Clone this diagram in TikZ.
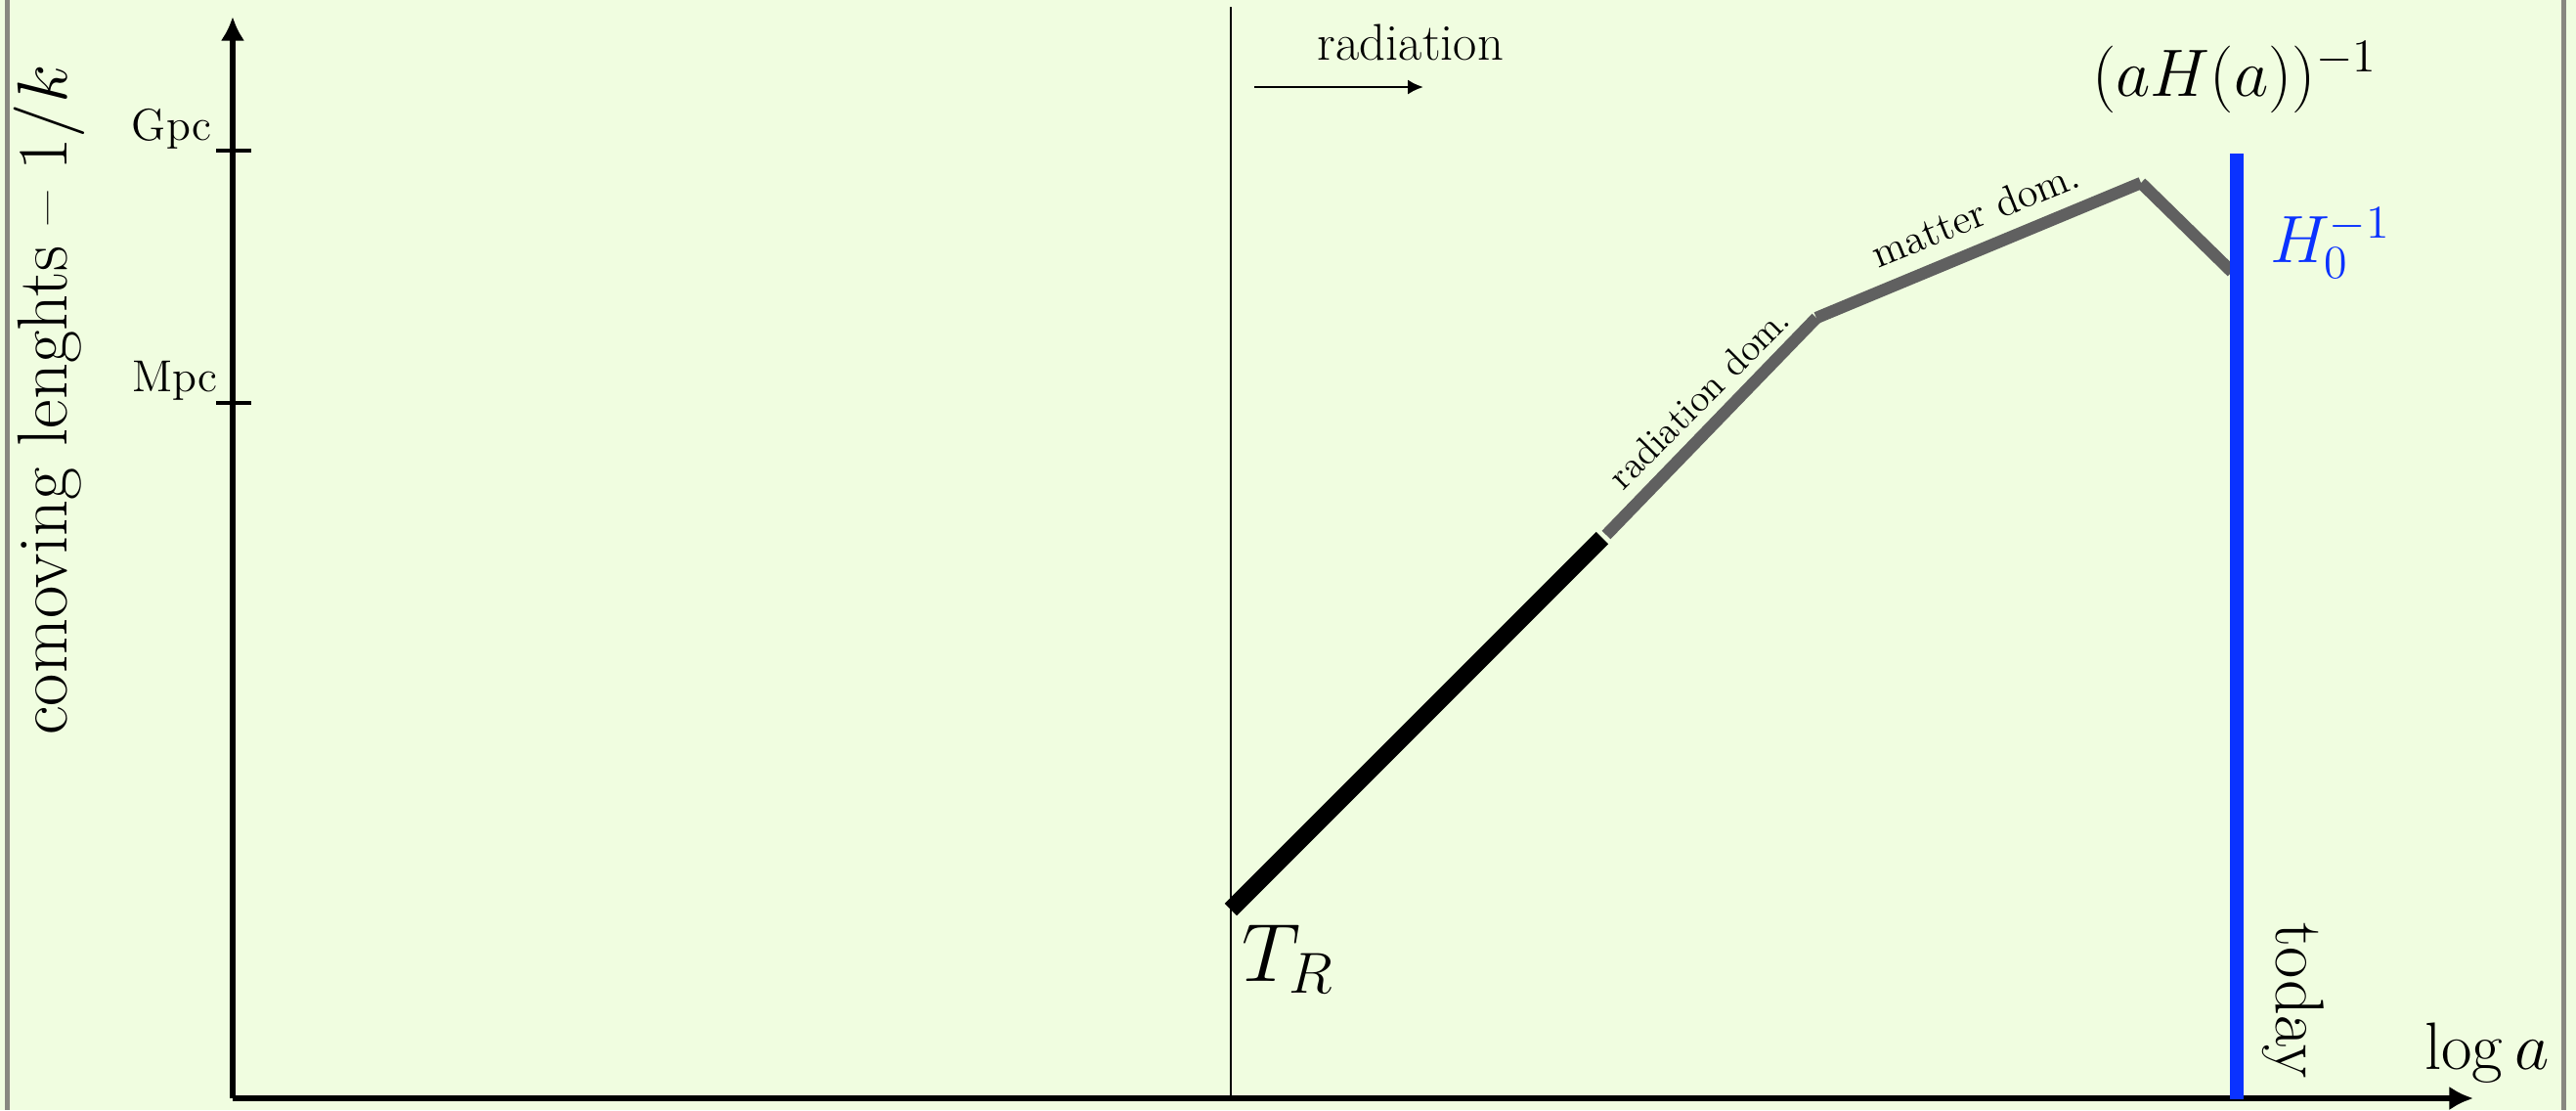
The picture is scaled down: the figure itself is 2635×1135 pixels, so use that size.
\RequirePackage{fix-cm}
\documentclass[tikz,border=0pt]{standalone}
\usetikzlibrary{arrows.meta}
\definecolor{bgc}{HTML}{F0FDE0}
\definecolor{framec}{HTML}{888880}
\definecolor{curvec}{HTML}{606060}
\definecolor{todayc}{HTML}{0A32FF}
\newcommand{\fs}[1]{\fontsize{#1}{1.2\dimexpr#1\relax}\selectfont}
\begin{document}
\begin{tikzpicture}[x=0.01cm,y=-0.01cm,
  axis/.style={line width=1.7pt,-{Latex[length=7pt,width=7pt]}},
  tickmark/.style={line width=1.4pt},
  lbl/.style={inner sep=0pt,outer sep=0pt},
  seg/.style={line width=3.5pt,curvec,line cap=butt},
]
\fill[bgc] (0,0) rectangle (2635,1135);
\useasboundingbox (0,0) rectangle (2635,1135);
\draw[framec,line width=1.4pt] (7.5,0) -- (7.5,1135);
\draw[framec,line width=1.4pt] (2622.5,0) -- (2622.5,1135);

% coordinates
\coordinate (O) at (238,1123);
\coordinate (Ytop) at (238,17);
\coordinate (Xend) at (2530,1123);
\coordinate (gpc) at (238,154);
\coordinate (mpc) at (238,412);
\coordinate (TRtop) at (1259,7);
\coordinate (TRbot) at (1259,1123);
\coordinate (radA) at (1283,89);
\coordinate (radB) at (1456,89);
\coordinate (p0) at (1259,930);
\coordinate (p1) at (1639,550);
\coordinate (q1) at (1643,547);
\coordinate (q2) at (1858,325);
\coordinate (q3) at (2190,187);
\coordinate (q4) at (2283,278);
\coordinate (tdTop) at (2288,157);
\coordinate (tdBot) at (2288,1124);

% axes
\draw[axis] (O) -- (Ytop);
\draw[axis] (O) -- (Xend);
\draw[tickmark] (gpc) ++(-17,0) -- ++(36,0);
\draw[tickmark] (mpc) ++(-17,0) -- ++(36,0);
\node[lbl,anchor=base east,font=\fs{13pt}] (gpcl) at (216,143) {Gpc};
\node[lbl,anchor=base east,font=\fs{13pt}] (mpcl) at (222,400) {Mpc};
\node[lbl,anchor=base,rotate=90,font=\fs{20.6pt}] (ylab) at (68,409) {comoving lenghts -- $1/k$};
\node[lbl,anchor=base west,font=\fs{19.5pt}] (xlab) at (2480,1093) {$\log a$};

% reheating line
\draw[line width=0.6pt] (TRtop) -- (TRbot);
\draw[line width=0.8pt,-{Latex[length=4.5pt,width=4.3pt]}] (radA) -- (radB);
\node[lbl,anchor=base,font=\fs{15pt}] (radl) at (1443,61) {radiation};
\node[lbl,anchor=base west,font=\fs{24pt}] (trl) at (1270,1003) {$T_R$};

% curve
\draw[line width=5pt,line cap=butt] (p0) -- (p1);
\draw[seg] (q1) -- (q2);
\draw[seg] (q2) -- (q3);
\draw[seg] (q3) -- (q4);
\node[lbl,anchor=base,rotate=45,font=\fs{11pt}] (rdl) at (1747,416) {radiation dom.};
\node[lbl,anchor=base,rotate=22,font=\fs{12pt}] (mdl) at (2026,232) {matter dom.};
\node[lbl,anchor=base,font=\fs{19.5pt}] (ahl) at (2286,98) {$(aH(a))^{-1}$};

% today
\draw[todayc,line width=3.8pt] (tdTop) -- (tdBot);
\node[lbl,anchor=base west,text=todayc,font=\fs{19.5pt}] (h0l) at (2322,268) {$H_0^{-1}$};
\node[lbl,anchor=base,rotate=-90,font=\fs{20pt}] (tdl) at (2328,1023) {today};
\end{tikzpicture}
\end{document}
